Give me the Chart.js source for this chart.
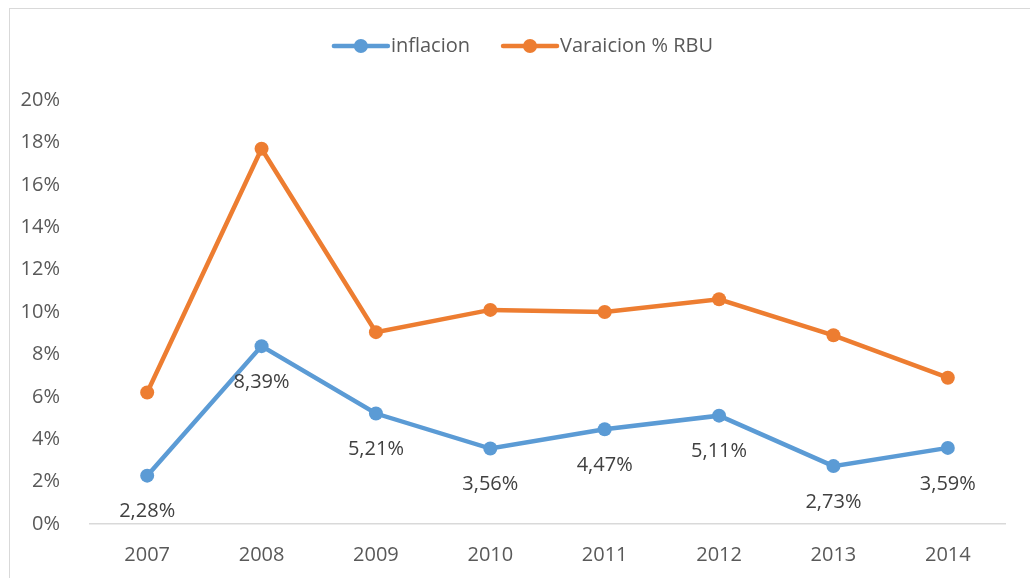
<!DOCTYPE html>
<html>
<head>
<meta charset="utf-8">
<script src="https://cdn.jsdelivr.net/npm/chart.js@4"></script>
<style>
    body { margin: 0; background: #fff; overflow: hidden; }
    #wrap { position: absolute; left: 0; top: 0; width: 1030px; height: 578px; }
    #frame { position: absolute; left: 9px; top: 8px; width: 1100px; height: 700px; border: 1px solid #d9d9d9; pointer-events: none; }
</style>
</head>
<body>
<div id="frame"></div>
<div id="wrap"><canvas id="chart"></canvas></div>
<script>
const years = ['2007', '2008', '2009', '2010', '2011', '2012', '2013', '2014'];
const inflacion = [2.28, 8.39, 5.21, 3.56, 4.47, 5.11, 2.73, 3.59];
const variacionRBU = [6.2, 17.7, 9.05, 10.1, 10.0, 10.6, 8.9, 6.9];
const yTicks = [0, 2, 4, 6, 8, 10, 12, 14, 16, 18, 20];

const BLUE = '#5b9bd5';
const ORANGE = '#ed7d31';
const FONT = '"Open Sans", sans-serif';

// labels under the inflacion points
const valueLabels = {
    id: 'valueLabels',
    afterDatasetsDraw(chart) {
        const ctx = chart.ctx;
        const meta = chart.getDatasetMeta(0);
        ctx.save();
        ctx.font = '20px ' + FONT;
        ctx.fillStyle = '#404040';
        ctx.textAlign = 'center';
        ctx.textBaseline = 'middle';
        meta.data.forEach((pt, i) => {
            ctx.fillText(inflacion[i].toFixed(2).replace('.', ',') + '%', pt.x, pt.y + 36);
        });
        ctx.restore();
    }
};

// legend drawn like excel: line with a marker in the middle
const lineLegend = {
    id: 'lineLegend',
    afterDraw(chart) {
        const ctx = chart.ctx;
        ctx.save();
        ctx.font = '20px ' + FONT;
        const items = chart.data.datasets.map(ds => ({
            text: ds.label, color: ds.borderColor, w: 56 + 4 + ctx.measureText(ds.label).width
        }));
        const gap = 30;
        const total = items.reduce((s, it) => s + it.w, 0) + gap * (items.length - 1);
        let x = chart.width / 2 + 8 - total / 2;
        const y = 46;
        items.forEach(it => {
            ctx.strokeStyle = it.color;
            ctx.lineWidth = 4.5;
            ctx.lineCap = 'round';
            ctx.beginPath();
            ctx.moveTo(x + 2, y);
            ctx.lineTo(x + 56, y);
            ctx.stroke();
            ctx.fillStyle = it.color;
            ctx.beginPath();
            ctx.arc(x + 29, y, 7, 0, Math.PI * 2);
            ctx.fill();
            ctx.fillStyle = '#595959';
            ctx.textBaseline = 'middle';
            ctx.textAlign = 'left';
            ctx.fillText(it.text, x + 59, y);
            x += it.w + gap;
        });
        ctx.restore();
    }
};

new Chart(document.getElementById('chart'), {
    type: 'line',
    data: {
        labels: years,
        datasets: [
            {
                label: 'inflacion',
                data: inflacion,
                borderColor: BLUE,
                backgroundColor: BLUE,
                borderWidth: 4.5,
                pointRadius: 7,
                pointBorderWidth: 0,
                tension: 0
            },
            {
                label: 'Varaicion % RBU',
                data: variacionRBU,
                borderColor: ORANGE,
                backgroundColor: ORANGE,
                borderWidth: 4.5,
                pointRadius: 7,
                pointBorderWidth: 0,
                tension: 0
            }
        ]
    },
    options: {
        responsive: true,
        maintainAspectRatio: false,
        animation: false,
        layout: { padding: { top: 100, right: 25, bottom: 0, left: 0 } },
        plugins: {
            legend: { display: false },
            tooltip: { enabled: false }
        },
        scales: {
            x: {
                offset: true,
                grid: { display: false },
                border: { display: true, color: '#d9d9d9', width: 1.5 },
                ticks: { color: '#595959', font: { family: FONT, size: 20 }, padding: 11, maxRotation: 0 },
                afterFit: s => { s.height = 54; }
            },
            y: {
                min: 0,
                max: 20,
                grid: { display: false },
                border: { display: false },
                afterBuildTicks: s => { s.ticks = yTicks.map(v => ({ value: v })); },
                ticks: {
                    color: '#595959',
                    font: { family: FONT, size: 20 },
                    padding: 22,
                    callback: v => v + '%'
                },
                afterFit: s => { s.width = 90; }
            }
        }
    },
    plugins: [valueLabels, lineLegend]
});
</script>
</body>
</html>
